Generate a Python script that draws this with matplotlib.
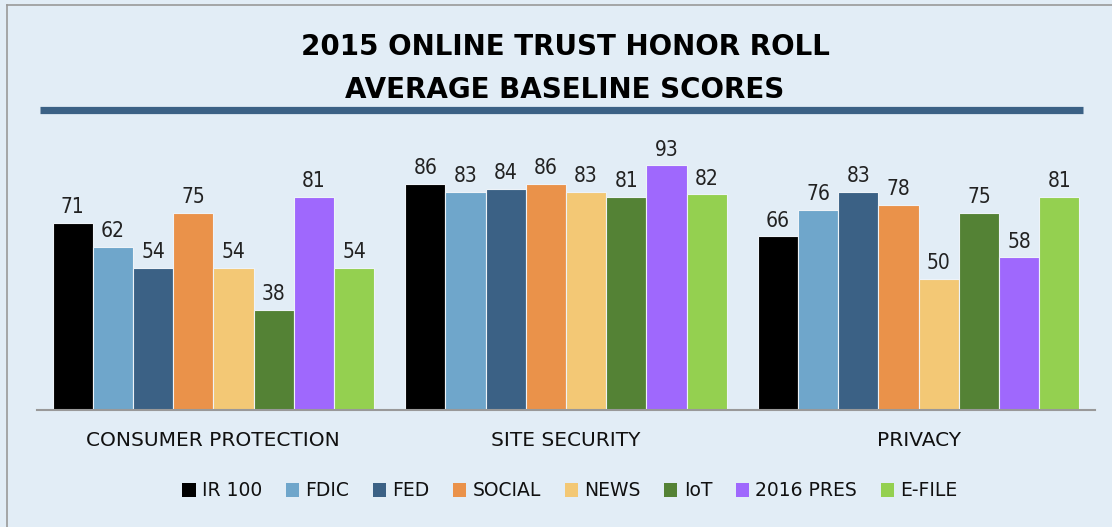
import matplotlib
matplotlib.use("Agg")
import matplotlib.pyplot as plt
import numpy as np
from matplotlib.lines import Line2D
from matplotlib.patches import Patch

categories = ["CONSUMER PROTECTION", "SITE SECURITY", "PRIVACY"]
series_names = ["IR 100", "FDIC", "FED", "SOCIAL", "NEWS", "IoT", "2016 PRES", "E-FILE"]
ir100 = [71, 86, 66]
fdic = [62, 83, 76]
fed = [54, 84, 83]
social = [75, 86, 78]
news = [54, 83, 50]
iot = [38, 81, 75]
pres2016 = [81, 93, 58]
efile = [54, 82, 81]
series_values = [ir100, fdic, fed, social, news, iot, pres2016, efile]
colors = ["#000000", "#6FA6CB", "#3B6185", "#EA924A", "#F3C875", "#548235", "#9F68FD", "#94D050"]

BG = "#E2EDF6"
FONT = "DejaVu Sans"

fig = plt.figure(figsize=(11.12, 5.27), dpi=100, facecolor=BG)
ax = fig.add_axes([37 / 1112, (527 - 410) / 527, 1058 / 1112, 263 / 527])
ax.set_facecolor(BG)

x = np.arange(len(categories))
n = len(series_names)
bw = 0.114
for i, (vals, c) in enumerate(zip(series_values, colors)):
    pos = x + (i - (n - 1) / 2) * bw
    bars = ax.bar(pos, vals, width=bw, color=c, edgecolor="#EEF3F8", linewidth=0.8, zorder=2)
    for b, v in zip(bars, vals):
        ax.text(b.get_x() + b.get_width() / 2, v + 2.2, str(v), ha="center", va="bottom",
                fontsize=15, color="#222222", family=FONT, fontstretch="condensed")

ax.set_xlim(-0.5, 2.5)
ax.set_ylim(0, 100)
ax.set_yticks([])
ax.set_xticks(x)
ax.set_xticklabels(categories, fontsize=14.5, family=FONT, color="#111111")
ax.tick_params(axis="x", length=0, pad=15)
for s in ["top", "right", "left"]:
    ax.spines[s].set_visible(False)
ax.spines["bottom"].set_color("#999999")
ax.spines["bottom"].set_linewidth(1.5)

# title
fig.text(565 / 1112, 1 - 47 / 527, "2015 ONLINE TRUST HONOR ROLL", ha="center", va="center",
         fontsize=20, fontweight="bold", family=FONT, color="#000000")
fig.text(565 / 1112, 1 - 90 / 527, "AVERAGE BASELINE SCORES", ha="center", va="center",
         fontsize=20, fontweight="bold", family=FONT, color="#000000")
fig.add_artist(Line2D([40 / 1112, 1083 / 1112], [1 - 109.5 / 527, 1 - 109.5 / 527],
                      transform=fig.transFigure, color="#3B6185", linewidth=5.2,
                      solid_capstyle="butt"))

# frame lines (left and top)
fig.add_artist(Line2D([7 / 1112, 7 / 1112], [0, 1 - 5 / 527], transform=fig.transFigure,
                      color="#999999", linewidth=1.2))
fig.add_artist(Line2D([7 / 1112, 1], [1 - 5 / 527, 1 - 5 / 527], transform=fig.transFigure,
                      color="#999999", linewidth=1.2))

handles = [Patch(facecolor=c, edgecolor="none") for c in colors]
leg = fig.legend(handles, series_names, loc="center", bbox_to_anchor=(570 / 1112, 1 - 491 / 527),
                 ncol=n, frameon=False, handlelength=0.7, handleheight=0.7, handletextpad=0.35,
                 columnspacing=1.25, prop={"family": FONT, "size": 13.5})
for t in leg.get_texts():
    t.set_color("#111111")

fig.savefig("out.png", dpi=100, facecolor=BG)
